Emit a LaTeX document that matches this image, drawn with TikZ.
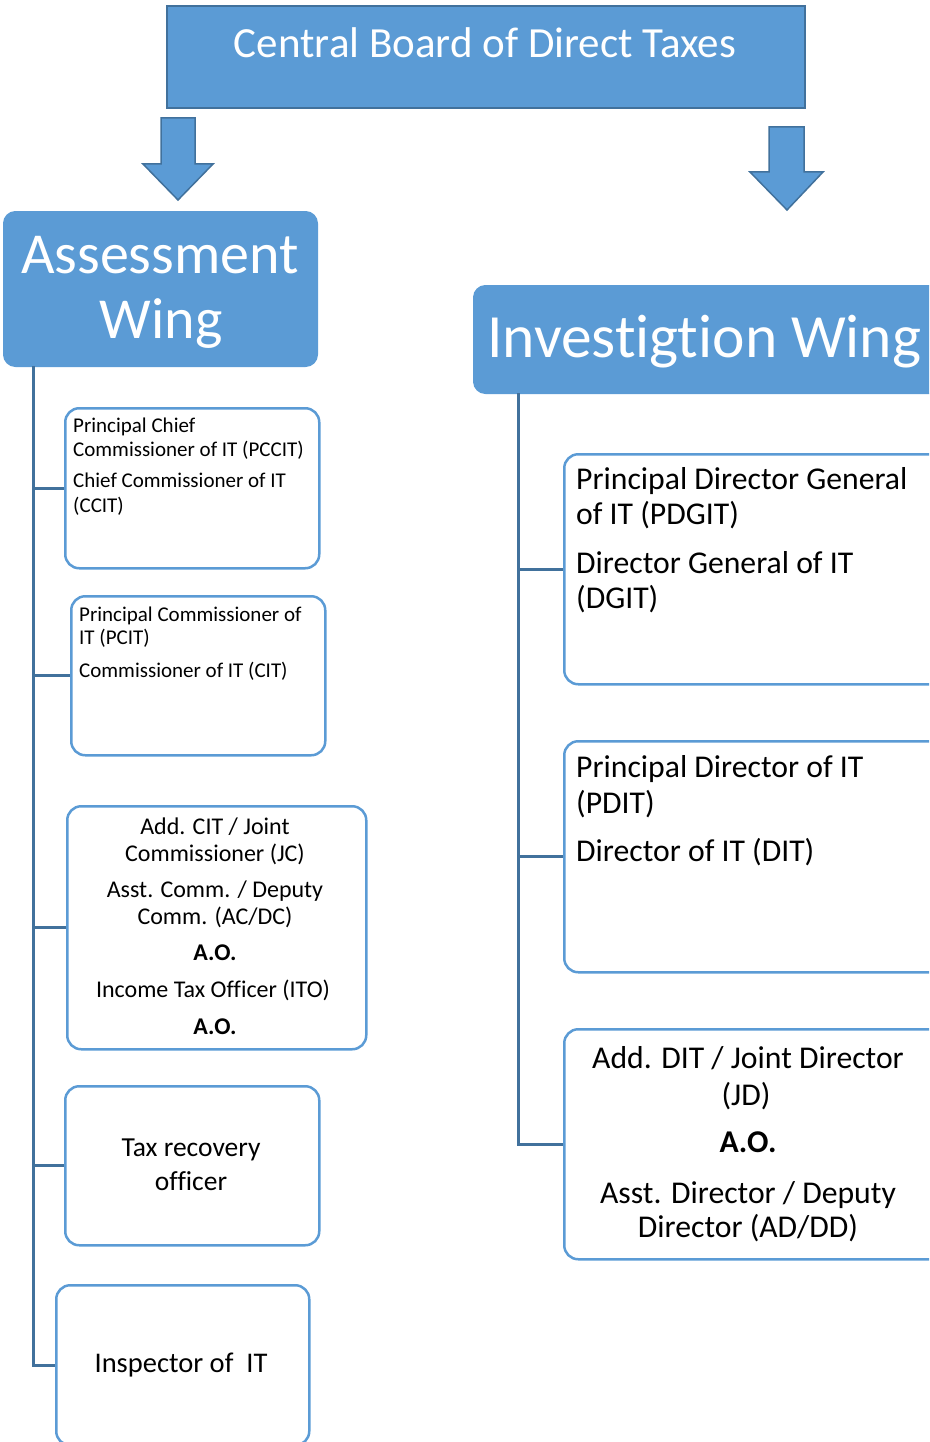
\documentclass[tikz,border=0pt]{standalone}
\usepackage{fontspec}
\setmainfont{Carlito}[Ligatures=NoCommon]
\definecolor{boxblue}{HTML}{5B9BD5}
\definecolor{darkblue}{HTML}{41719C}
\begin{document}
\begin{tikzpicture}[x=1pt,y=-1pt,
  conn/.style={draw=darkblue, line width=3pt},
  orgbox/.style={rectangle, draw=boxblue, fill=white, line width=2.5pt, rounded corners=14pt, anchor=north west, inner sep=0pt},
  wingbox/.style={rectangle, fill=boxblue, draw=boxblue, line width=1pt, rounded corners=12pt, anchor=north west, inner sep=0pt},
  topbox/.style={rectangle, fill=boxblue, draw=darkblue, line width=2pt, anchor=north west, inner sep=0pt},
  bigarrow/.style={fill=boxblue, draw=darkblue, line width=1.5pt, line join=miter},
  txt/.style={inner sep=0pt, text=black},
  wtxt/.style={inner sep=0pt, text=white},
  fa/.style={font=\fontsize{21}{25}\selectfont},
  fb/.style={font=\fontsize{24}{27}\selectfont},
  fr/.style={font=\fontsize{31.7}{35}\selectfont},
]
\clip (0,0) rectangle (929,1442);

% top box
\node[topbox, minimum width=638pt, minimum height=102pt] (cbdt) at (166,5) {};
\node[wtxt, anchor=base, font=\fontsize{43}{50}\selectfont] (cbdtt) at (485,58) {Central Board of Direct Taxes};

% arrows
\draw[bigarrow] (161,118) -- (195,118) -- (195,164) -- (213,164) -- (178,200) -- (143,164) -- (161,164) -- cycle;
\draw[bigarrow] (769,127) -- (804,127) -- (804,172) -- (823,172) -- (787,210) -- (750,172) -- (769,172) -- cycle;

% wing boxes
\node[wingbox, minimum width=314pt, minimum height=155pt] (aw) at (3,211) {};
\node[wtxt, anchor=base, font=\fontsize{58}{65}\selectfont] (awt1) at (160,273) {Assessment};
\node[wtxt, anchor=base, font=\fontsize{58}{65}\selectfont] (awt2) at (161,338) {Wing};

\node[wingbox, minimum width=475pt, minimum height=108pt] (iw) at (473,285) {};
\node[wtxt, anchor=base west, font=\fontsize{61.5}{69}\selectfont] (iwt) at (487,357) {Investigtion Wing};

% left boxes
\node[orgbox, minimum width=254pt, minimum height=160pt] (b1) at (64,407) {};
\node[txt, fa, anchor=base west] (b1a) at (73,432) {Principal Chief};
\node[txt, fa, anchor=base west] (b1b) at (73,456) {Commissioner of IT (PCCIT)};
\node[txt, fa, anchor=base west] (b1c) at (73,487) {Chief Commissioner of IT};
\node[txt, fa, anchor=base west] (b1d) at (73,512) {(CCIT)};

\node[orgbox, minimum width=254pt, minimum height=159pt] (b2) at (70,595) {};
\node[txt, fa, anchor=base west] (b2a) at (79,621) {Principal Commissioner of};
\node[txt, fa, anchor=base west] (b2b) at (79,644) {IT (PCIT)};
\node[txt, fa, anchor=base west] (b2c) at (79,677) {Commissioner of IT (CIT)};

\node[orgbox, minimum width=299pt, minimum height=243pt] (b3) at (66,805) {};
\node[txt, fb, anchor=base] (b3a) at (215,834) {Add. CIT / Joint};
\node[txt, fb, anchor=base] (b3b) at (215,861) {Commissioner (JC)};
\node[txt, fb, anchor=base] (b3c) at (215,897) {Asst. Comm. / Deputy};
\node[txt, fb, anchor=base] (b3d) at (215,924) {Comm. (AC/DC)};
\node[txt, fb, anchor=base] (b3e) at (215,960) {\bfseries A.O.};
\node[txt, fb, anchor=base] (b3f) at (213,997) {Income Tax Officer (ITO)};
\node[txt, fb, anchor=base] (b3g) at (215,1034) {\bfseries A.O.};

\node[orgbox, minimum width=254pt, minimum height=159pt] (b4) at (64,1085) {};
\node[txt, anchor=base, font=\fontsize{27.5}{33}\selectfont] (b4a) at (191,1156) {Tax recovery};
\node[txt, anchor=base, font=\fontsize{27.5}{33}\selectfont] (b4b) at (191,1190) {officer};

\node[orgbox, minimum width=253pt, minimum height=160pt] (b5) at (55,1284) {};
\node[txt, anchor=base, font=\fontsize{28.5}{34}\selectfont] (b5a) at (181,1372) {Inspector of\ \ IT};

% right boxes
\node[orgbox, minimum width=380pt, minimum height=230pt] (r1) at (563,453) {};
\node[txt, fr, anchor=base west] (r1a) at (576,489) {Principal Director General};
\node[txt, fr, anchor=base west] (r1b) at (576,524) {of IT (PDGIT)};
\node[txt, fr, anchor=base west] (r1c) at (576,573) {Director General of IT};
\node[txt, fr, anchor=base west] (r1d) at (576,608) {(DGIT)};

\node[orgbox, minimum width=380pt, minimum height=231pt] (r2) at (563,740) {};
\node[txt, fr, anchor=base west] (r2a) at (576,777) {Principal Director of IT};
\node[txt, fr, anchor=base west] (r2b) at (576,813) {(PDIT)};
\node[txt, fr, anchor=base west] (r2c) at (576,861) {Director of IT (DIT)};

\node[orgbox, minimum width=380pt, minimum height=230pt] (r3) at (563,1028) {};
\node[txt, fr, anchor=base] (r3a) at (748,1068) {Add. DIT / Joint Director};
\node[txt, fr, anchor=base] (r3b) at (746,1105) {(JD)};
\node[txt, fr, anchor=base] (r3c) at (748,1152) {\bfseries A.O.};
\node[txt, fr, anchor=base] (r3d) at (748,1203) {Asst. Director / Deputy};
\node[txt, fr, anchor=base] (r3e) at (748,1237) {Director (AD/DD)};

% connectors
\coordinate (lt) at (33,366);
\draw[conn] (lt) |- (b5.west);
\foreach \b in {b1,b2,b3,b4} \draw[conn] (lt |- \b.west) -- (\b.west);

\coordinate (rt) at (518,393);
\draw[conn] (rt) |- (r3.west);
\foreach \b in {r1,r2} \draw[conn] (rt |- \b.west) -- (\b.west);
\end{tikzpicture}
\end{document}
